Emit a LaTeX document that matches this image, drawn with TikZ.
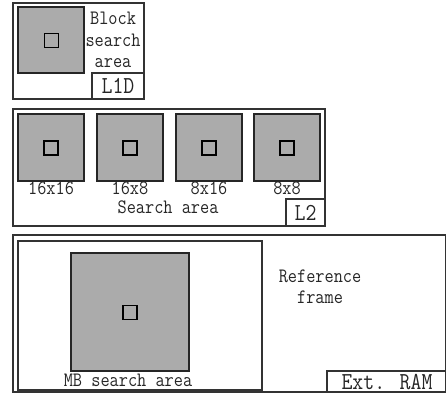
\documentclass[tikz,border=0pt]{standalone}
\usepackage{fontspec}
\usetikzlibrary{positioning}

\newcommand{\tallt}[1]{\scalebox{1}[1.15]{#1}}

\begin{document}
\begin{tikzpicture}[x=1pt,y=-1pt,
    frame/.style={draw=black!80,line width=1.2pt},
    area/.style={draw=black!85,line width=1.1pt,fill=black!33},
    blk/.style={draw=black,line width=1.1pt},
    txt/.style={font=\ttfamily\fontsize{17.8}{19}\selectfont,text=black!85,inner sep=0pt,anchor=base},
    tagtxt/.style={font=\ttfamily\fontsize{21.2}{22}\selectfont,text=black!85,inner sep=0pt,anchor=base}]
  \useasboundingbox (0,0) rectangle (446,402);

  % L1D
  \draw[frame] (13,3) rectangle (144,99);
  \draw[area] (18,7) rectangle (84,73);
  \draw[blk] (44.5,33.5) rectangle (58.5,47.5);
  \node[txt] (blockt) at (113,24) {\tallt{Block}};
  \node[txt] (searcht) at (113,46) {\tallt{search}};
  \node[txt] (areat) at (113,67) {\tallt{area}};
  \draw[frame] (92,73) rectangle (144,99);
  \node[tagtxt] (lid) at (118,93) {\tallt{L1D}};

  % L2
  \draw[frame] (13,109) rectangle (325,226);
  \foreach \x/\name/\lab in {18/a/16x16, 97/b/16x8, 176/c/8x16, 254/d/8x8} {
    \draw[area] (\x,114) rectangle (\x+66,181);
    \draw[blk] (\x+26,141) rectangle (\x+40,155);
    \node[txt] (size\name) at (\x+33,194.5) {\tallt{\lab}};
  }
  \node[txt] (searcharea) at (168,213) {\tallt{Search area}};
  \draw[frame] (286,199) rectangle (325,226);
  \node[tagtxt] (ltwo) at (305.5,220) {\tallt{L2}};

  % Ext. RAM
  \draw[frame] (13,235) rectangle (445.5,392);
  \draw[frame] (18,241) rectangle (262,390);
  \draw[area] (71,253) rectangle (189,371);
  \draw[blk] (123,305.5) rectangle (137,319.5);
  \node[txt] (mbarea) at (128,386) {\tallt{MB search area}};
  \node[txt] (reft) at (320,282) {\tallt{Reference}};
  \node[txt] (framet) at (320,303) {\tallt{frame}};
  \draw[frame] (327,371) rectangle (445.5,392);
  \node[tagtxt] (extram) at (387,389) {\tallt{Ext. RAM}};
\end{tikzpicture}
\end{document}
